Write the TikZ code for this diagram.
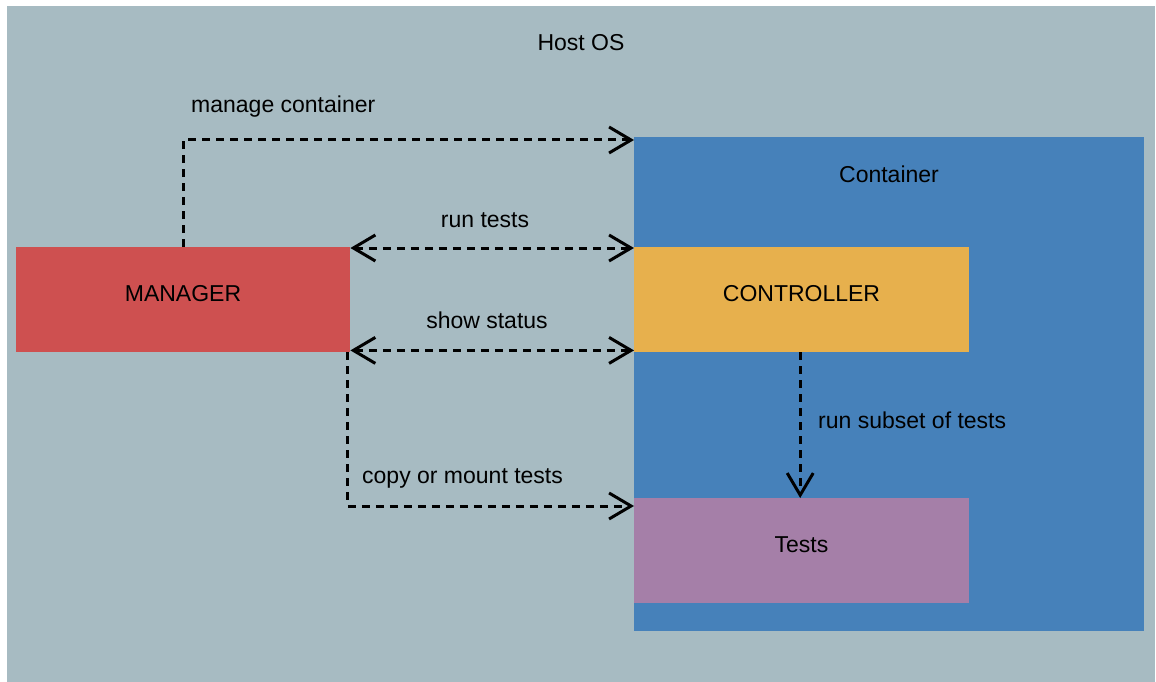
\documentclass[tikz,border=0pt]{standalone}
\usepackage{fontspec}
\setmainfont{Liberation Sans}
\usetikzlibrary{arrows.meta,calc}
\definecolor{hostgray}{RGB}{167,187,194}
\definecolor{contblue}{RGB}{70,129,186}
\definecolor{mgrred}{RGB}{206,80,80}
\definecolor{ctrlorange}{RGB}{231,176,77}
\definecolor{testpurple}{RGB}{165,127,168}
\tikzset{
  box/.style={rectangle, draw=none, inner sep=0pt, anchor=north west},
  lbl/.style={inner sep=0pt, font=\fontsize{23}{27}\selectfont},
  conn/.style={line width=3pt, dash pattern=on 8pt off 6pt, -{Straight Barb[length=22pt,width=26pt,line width=3pt]}},
  bconn/.style={conn, {Straight Barb[length=22pt,width=26pt,line width=3pt]}-{Straight Barb[length=22pt,width=26pt,line width=3pt]}}
}
\begin{document}
\begin{tikzpicture}[x=1pt,y=-1pt]
\useasboundingbox (0,0) rectangle (1156,682);
\node[box, fill=hostgray, minimum width=1148pt, minimum height=676pt] (host) at (7,6) {};
\node[lbl] (hostlbl) at (581,43) {Host OS};
\node[box, fill=contblue, minimum width=510pt, minimum height=494pt] (cont) at (634,137) {};
\node[lbl] (contlbl) at (889,174) {Container};
\node[box, fill=mgrred, minimum width=334pt, minimum height=105pt] (man) at (16,247) {};
\node[lbl] (manlbl) at (183,294) {MANAGER};
\node[box, fill=ctrlorange, minimum width=335pt, minimum height=105pt] (ctrl) at (634,247) {};
\node[lbl] (ctrllbl) at (801.5,294) {CONTROLLER};
\node[box, fill=testpurple, minimum width=335pt, minimum height=105pt] (tests) at (634,498) {};
\node[lbl] (testslbl) at (801.5,545) {Tests};

\draw[conn] (man.north) |- ([yshift=-3pt]cont.north west);
\node[lbl, anchor=west] (l1) at (191,107) {manage container};
\draw[bconn] ([yshift=-1pt]man.north east) -- ([yshift=-1pt]ctrl.north west);
\node[lbl] (l2) at (485,220) {run tests};
\draw[bconn] ([yshift=2pt]man.south east) -- ([yshift=2pt]ctrl.south west);
\node[lbl] (l3) at (487,320) {show status};
\draw[conn] ([xshift=-3pt]man.south east) |- ([yshift=-8pt]tests.north west);
\node[lbl, anchor=west] (l4) at (362,478) {copy or mount tests};
\draw[conn] ([xshift=-1.5pt]ctrl.south) -- ([xshift=-1.5pt]tests.north);
\node[lbl, anchor=west] (l5) at (818,420) {run subset of tests};
\end{tikzpicture}
\end{document}
